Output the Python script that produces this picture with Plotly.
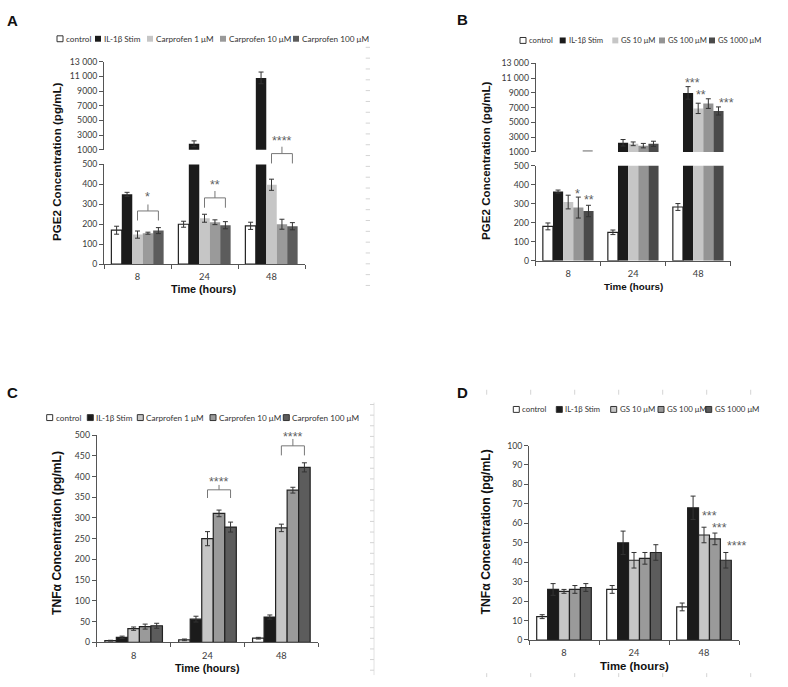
import plotly.graph_objects as go

W, H = 788, 687
def px(x): return x / W
def py(y): return 1 - y / H

# ---------------- data ----------------
times = ["8", "24", "48"]
names_carp = ["control", "IL-1β Stim", "Carprofen 1 μM", "Carprofen 10 μM", "Carprofen 100 μM"]
names_gs = ["control", "IL-1β Stim", "GS 10 μM", "GS 100 μM", "GS 1000 μM"]

# Panel A: PGE2 (pg/mL), carprofen; one list per series over times 8/24/48
a_control = [170, 200, 192]
a_il1b = [350, 1800, 10800]
a_c1 = [148, 230, 398]
a_c10 = [155, 210, 200]
a_c100 = [168, 195, 190]
a_err = [[20, 15, 18], [10, 400, 800], [18, 20, 28], [5, 12, 25], [15, 18, 18]]

# Panel B: PGE2 (pg/mL), GS
b_control = [181, 150, 283]
b_il1b = [364, 2240, 9000]
b_gs10 = [309, 2100, 6900]
b_gs100 = [280, 1850, 7550]
b_gs1000 = [262, 2100, 6550]
b_err = [[18, 12, 18], [8, 440, 850], [36, 250, 700], [55, 300, 650], [30, 350, 550]]

# Panel C: TNFa (pg/mL), carprofen
c_control = [4, 6, 10]
c_il1b = [12, 56, 61]
c_c1 = [33, 250, 276]
c_c10 = [38, 311, 367]
c_c100 = [40, 278, 422]
c_err = [[1, 2, 2], [3, 7, 5], [4, 17, 9], [6, 8, 7], [6, 12, 11]]

# Panel D: TNFa (pg/mL), GS
d_control = [12, 26, 17]
d_il1b = [26, 50, 68]
d_gs10 = [25, 41, 54]
d_gs100 = [26, 42, 52]
d_gs1000 = [27, 45, 41]
d_err = [[1, 2, 2], [3, 6, 6], [1, 4, 4], [2, 3, 3], [2, 4, 4]]

pge2_low_ticks = [0, 100, 200, 300, 400, 500]
pge2_high_ticks = [1000, 3000, 5000, 7000, 9000, 11000, 13000]
pge2_high_labels = ["1000", "3000", "5000", "7000", "9000", "11 000", "13 000"]
tnf_c_ticks = list(range(0, 501, 50))
tnf_d_ticks = list(range(0, 101, 10))

colors = ["#ffffff", "#1b1b1b", "#c6c6c6", "#9a9a9a", "#5c5c5c"]
colors_b = ["#ffffff", "#1b1b1b", "#c6c6c6", "#949494", "#4a4a4a"]

# ---------------- figure ----------------
BARGAP = 0.22
NB = 5
x_idx = list(range(len(times)))
fig = go.Figure()

def add_bars(series, errs, names, cols, xa, ya, outline):
    for i, (v, e, n, c) in enumerate(zip(series, errs, names, cols)):
        lw = 1.2 if (outline or i == 0) else 0
        fig.add_trace(go.Bar(
            x=x_idx, y=v, name=n, showlegend=False,
            marker=dict(color=c, line=dict(color="#222222", width=lw)),
            error_y=dict(type="data", array=e, color="#333333", thickness=1, width=2.5),
            xaxis=xa, yaxis=ya))

A = [a_control, a_il1b, a_c1, a_c10, a_c100]
B = [b_control, b_il1b, b_gs10, b_gs100, b_gs1000]
C = [c_control, c_il1b, c_c1, c_c10, c_c100]
D = [d_control, d_il1b, d_gs10, d_gs100, d_gs1000]

add_bars(A, a_err, names_carp, colors, "x", "y", False)
add_bars(A, a_err, names_carp, colors, "x", "y2", False)
add_bars(B, b_err, names_gs, colors_b, "x2", "y3", False)
add_bars(B, b_err, names_gs, colors_b, "x2", "y4", False)
add_bars(C, c_err, names_carp, colors, "x3", "y5", True)
add_bars(D, d_err, names_gs, colors, "x4", "y6", True)

tickfont = dict(family="Lato, sans-serif", size=8.7, color="#3a3a3a")
AXC = "#555555"

def yax(dom, rng, tv, tt, anchor):
    return dict(domain=dom, range=rng, tickvals=tv, ticktext=tt, anchor=anchor,
                showline=True, linecolor=AXC, linewidth=1, ticks="outside", ticklen=4,
                tickcolor=AXC, showgrid=False, zeroline=False, tickfont=tickfont, fixedrange=True)

def xax(dom, anchor):
    return dict(domain=dom, anchor=anchor, range=[-0.5, len(times) - 0.5],
                tickvals=x_idx, ticktext=times, ticks="outside", ticklen=4,
                tickcolor="rgba(0,0,0,0)",
                minor=dict(tickvals=[i - 0.5 for i in range(len(times) + 1)], ticks="outside",
                           ticklen=4, tickcolor=AXC, showgrid=False),
                showline=True, linecolor=AXC, linewidth=1, showgrid=False, zeroline=False,
                tickfont=dict(family="Lato, sans-serif", size=9.3, color="#3a3a3a"), fixedrange=True)

fig.update_layout(
    width=W, height=H, margin=dict(l=0, r=0, t=0, b=0),
    paper_bgcolor="white", plot_bgcolor="rgba(0,0,0,0)",
    barmode="group", bargap=BARGAP, bargroupgap=0, showlegend=False,
    xaxis=xax([px(104), px(305)], "y"),
    yaxis=yax([py(262.3), py(161)], [0, 500], pge2_low_ticks, [str(t) for t in pge2_low_ticks], "x"),
    yaxis2=yax([py(146), py(56.7)], [1000, 13000], pge2_high_ticks, pge2_high_labels, "x"),
    xaxis2=xax([px(535.7), px(730.7)], "y3"),
    yaxis3=yax([py(259), py(162.3)], [0, 500], pge2_low_ticks, [str(t) for t in pge2_low_ticks], "x2"),
    yaxis4=yax([py(148.3), py(58.3)], [1000, 13000], pge2_high_ticks, pge2_high_labels, "x2"),
    xaxis3=xax([px(96.7), px(318.3)], "y5"),
    yaxis5=yax([py(646.7), py(436)], [0, 500], tnf_c_ticks, [str(t) for t in tnf_c_ticks], "x3"),
    xaxis4=xax([px(529), px(739)], "y6"),
    yaxis6=yax([py(644.3), py(446.7)], [0, 100], tnf_d_ticks, [str(t) for t in tnf_d_ticks], "x4"),
)

ann = []
shapes = []

def bar_center(t, i):
    w = (1 - BARGAP) / NB
    return t + (i - (NB - 1) / 2) * w

# panel letters
for letter, (lx, ly) in zip("ABCD", [(12.5, 14.5), (462.7, 13.5), (12, 392.5), (462, 393)]):
    ann.append(dict(text="<b>" + letter + "</b>", x=px(lx), y=py(ly), xref="paper", yref="paper",
                    showarrow=False, xanchor="center", yanchor="middle",
                    font=dict(family="Liberation Sans, Arial, sans-serif", size=15, color="#111111")))

TF = "Liberation Sans, Arial, sans-serif"
# y titles: (text, x, y, size)
for txt, tx, ty, fs in [("<b>PGE2 Concentration (pg/mL)</b>", 57, 157.5, 11.6),
                        ("<b>PGE2 Concentration (pg/mL)</b>", 486, 157.5, 11.6),
                        ("<b>TNFα Concentration (pg/mL)</b>", 57, 535.5, 12.1),
                        ("<b>TNFα Concentration (pg/mL)</b>", 486, 535, 12.2)]:
    ann.append(dict(text=txt, x=px(tx), y=py(ty), xref="paper", yref="paper", showarrow=False,
                    textangle=-90, xanchor="center", yanchor="middle",
                    font=dict(family=TF, size=fs, color="#111111")))
# x titles
for tx, ty, fs in [(204.2, 287.5, 10.8), (633.2, 285.5, 9.8), (207.8, 672.5, 10.7), (634.8, 671, 11.4)]:
    ann.append(dict(text="<b>Time (hours)</b>", x=px(tx), y=py(ty), xref="paper", yref="paper",
                    showarrow=False, xanchor="center", yanchor="middle",
                    font=dict(family=TF, size=fs, color="#111111")))

# legends (manual: square + name)
legends = [
    (names_carp, colors, [57, 95, 147, 220, 293], 33.3, False, 8.2),
    (names_gs, colors_b, [520, 559.7, 612.3, 659, 709], 35, False, 7.7),
    (names_carp, colors, [46.7, 87.3, 137.3, 210, 283.3], 418.3, True, 8.2),
    (names_gs, colors, [513.3, 556.3, 610.7, 658, 705.7], 410, True, 7.9),
]
SQ = 6
for names, cols, xs, yc, outline, lfs in legends:
    for i, (n, c, x0) in enumerate(zip(names, cols, xs)):
        lw = 1 if (outline or i == 0) else 0
        shapes.append(dict(type="rect", xref="paper", yref="paper",
                           x0=px(x0), x1=px(x0 + SQ), y0=py(yc + SQ / 2), y1=py(yc - SQ / 2),
                           fillcolor=c, line=dict(color="#333333", width=lw)))
        ann.append(dict(text=n, x=px(x0 + SQ + 1), y=py(yc), xref="paper", yref="paper",
                        showarrow=False, xanchor="left", yanchor="middle",
                        font=dict(family="Lato, sans-serif", size=lfs, color="#333333")))

# significance brackets: (xref, time index, first bar, last bar, y_end, y_line, y_stem, y_star, text)
brackets = [
    ("x", 0, 2, 4, 218, 208.3, 201.7, 190, "*"),
    ("x", 1, 2, 4, 205, 195, 188, 178, "**"),
    ("x", 2, 2, 4, 160, 150, 143, 133, "****"),
    ("x3", 1, 2, 4, 500, 491.7, 486.7, 479.3, "****"),
    ("x3", 2, 2, 4, 456.7, 447, 440, 434.3, "****"),
]
BRC = "#777777"
SD = 4
starfont = dict(family="Liberation Sans, Arial, sans-serif", size=12.5, color="#606060")
for xr, t, i0, i1, ye, yl, ys, yst, txt in brackets:
    x0, x1 = bar_center(t, i0), bar_center(t, i1)
    xm = (x0 + x1) / 2
    segs = [(x0, ye, x0, yl), (x0, yl, x1, yl), (x1, yl, x1, ye), (xm, yl, xm, ys)]
    for sx0, sy0, sx1, sy1 in segs:
        shapes.append(dict(type="line", xref=xr, yref="paper", x0=sx0, x1=sx1,
                           y0=py(sy0), y1=py(sy1), line=dict(color=BRC, width=1)))
    ann.append(dict(text=txt, x=xm, y=py(yst + SD), xref=xr, yref="paper", showarrow=False,
                    xanchor="center", yanchor="middle", font=starfont))

# free-standing significance stars (pixel positions)
stars = [(692, 74, "***"), (700.7, 86, "**"), (726.5, 95, "***"), (577, 187, "*"), (589.3, 193.3, "**"),
         (709, 514.3, "***"), (719, 527, "***"), (736.7, 545, "****")]
for sx, sy, txt in stars:
    ann.append(dict(text=txt, x=px(sx), y=py(sy + SD), xref="paper", yref="paper", showarrow=False,
                    xanchor="center", yanchor="middle", font=starfont))

# small stray dash in panel B
shapes.append(dict(type="line", xref="paper", yref="paper", x0=px(582.7), x1=px(592.7),
                   y0=py(147.3), y1=py(147.3), line=dict(color="#666666", width=1)))

# faint scan artefacts (light tick columns)
FAINT = "#d4d4d4"
yy = 42
while yy <= 290:
    shapes.append(dict(type="line", xref="paper", yref="paper", x0=px(365.7), x1=px(370),
                       y0=py(yy), y1=py(yy), line=dict(color=FAINT, width=1)))
    yy += 11
shapes.append(dict(type="line", xref="paper", yref="paper", x0=px(374), x1=px(374),
                   y0=py(403), y1=py(680), line=dict(color="#e2e2e2", width=1)))
yy = 405
while yy <= 680:
    shapes.append(dict(type="line", xref="paper", yref="paper", x0=px(370), x1=px(374),
                       y0=py(yy), y1=py(yy), line=dict(color=FAINT, width=1)))
    yy += 10.8
for k in range(7):
    xx = 486.7 + 44 * k
    for (ya, yb) in [(678, 682), (390, 395)]:
        shapes.append(dict(type="line", xref="paper", yref="paper", x0=px(xx), x1=px(xx),
                           y0=py(ya), y1=py(yb), line=dict(color=FAINT, width=1)))

fig.update_layout(annotations=ann, shapes=shapes)
fig.write_html("out.html", config={"displayModeBar": False},
               post_script="document.body.style.margin='0';document.body.style.padding='0';"
                           "document.body.style.overflow='hidden';")
